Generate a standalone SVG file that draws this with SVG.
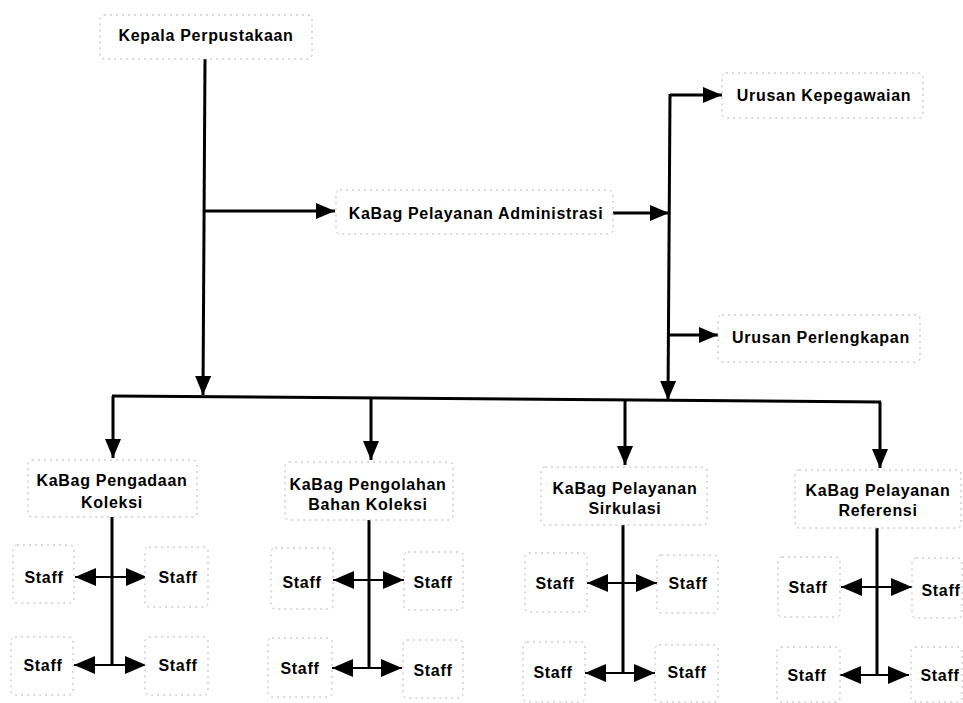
<svg xmlns="http://www.w3.org/2000/svg" width="963" height="703" viewBox="0 0 963 703">
<style>
.box{fill:#fff;stroke:#b5b5b5;stroke-width:1;stroke-dasharray:2 4}
.t{font-family:"Liberation Sans",Arial,sans-serif;font-weight:bold;font-size:16px;letter-spacing:0.7px;fill:#000;text-anchor:middle}
.ln{stroke:#000;stroke-width:3;fill:none}
.sa{stroke:#000;stroke-width:2.2;fill:none}
</style>
<defs>
<marker id="ah" markerUnits="userSpaceOnUse" markerWidth="19" markerHeight="16" refX="19" refY="8" orient="auto">
<path d="M0,0 L19,8 L0,16 z" fill="#000"/>
</marker>
<marker id="sh" markerUnits="userSpaceOnUse" markerWidth="21" markerHeight="18" refX="21" refY="9" orient="auto-start-reverse">
<path d="M0,0 L21,9 L0,18 z" fill="#000"/>
</marker>
</defs>
<rect width="963" height="703" fill="#fff"/>

<g id="connectors">
<line class="ln" x1="205" y1="59" x2="203" y2="395" marker-end="url(#ah)"/>
<line class="ln" x1="204" y1="211" x2="335" y2="211" marker-end="url(#ah)"/>
<line class="ln" x1="613" y1="213" x2="669" y2="213" marker-end="url(#ah)"/>
<path class="ln" d="M670,95 L722,95" marker-end="url(#ah)"/>
<line class="ln" x1="670" y1="94" x2="668" y2="400" marker-end="url(#ah)"/>
<line class="ln" x1="669" y1="335" x2="718" y2="335" marker-end="url(#ah)"/>
<line class="ln" x1="112" y1="396" x2="881" y2="402"/>
<line class="ln" x1="113" y1="396" x2="113" y2="458" marker-end="url(#ah)"/>
<line class="ln" x1="371" y1="398" x2="371" y2="460" marker-end="url(#ah)"/>
<line class="ln" x1="625" y1="400" x2="625" y2="465" marker-end="url(#ah)"/>
<line class="ln" x1="880" y1="402" x2="880" y2="468" marker-end="url(#ah)"/>
<line class="ln" x1="112" y1="517" x2="112" y2="665"/>
<line class="ln" x1="369" y1="520" x2="369" y2="668"/>
<line class="ln" x1="623" y1="525" x2="623" y2="673"/>
<line class="ln" x1="877" y1="528" x2="877" y2="675"/>
<line class="sa" x1="75" y1="577" x2="147" y2="577" marker-start="url(#sh)" marker-end="url(#sh)"/>
<line class="sa" x1="74" y1="665" x2="146" y2="665" marker-start="url(#sh)" marker-end="url(#sh)"/>
<line class="sa" x1="333" y1="580" x2="404" y2="580" marker-start="url(#sh)" marker-end="url(#sh)"/>
<line class="sa" x1="332" y1="668" x2="402" y2="668" marker-start="url(#sh)" marker-end="url(#sh)"/>
<line class="sa" x1="587" y1="583" x2="657" y2="583" marker-start="url(#sh)" marker-end="url(#sh)"/>
<line class="sa" x1="585" y1="673" x2="655" y2="673" marker-start="url(#sh)" marker-end="url(#sh)"/>
<line class="sa" x1="841" y1="587" x2="912" y2="587" marker-start="url(#sh)" marker-end="url(#sh)"/>
<line class="sa" x1="840" y1="675" x2="909" y2="675" marker-start="url(#sh)" marker-end="url(#sh)"/>
</g>

<g id="kepala"><rect class="box" x="100" y="15" width="212" height="44" rx="4"/><text class="t" x="206" y="41">Kepala Perpustakaan</text></g>
<g id="administrasi"><rect class="box" x="336" y="190" width="277" height="44" rx="4"/><text class="t" x="476" y="219">KaBag Pelayanan Administrasi</text></g>
<g id="kepegawaian"><rect class="box" x="722" y="73" width="201" height="45" rx="4"/><text class="t" x="824" y="101">Urusan Kepegawaian</text></g>
<g id="perlengkapan"><rect class="box" x="718" y="315" width="202" height="47" rx="4"/><text class="t" x="821" y="343">Urusan Perlengkapan</text></g>

<g id="pengadaan"><rect class="box" x="28" y="460" width="169" height="57" rx="4"/><text class="t" x="112" y="486">KaBag Pengadaan</text><text class="t" x="112" y="508">Koleksi</text></g>
<g id="pengolahan"><rect class="box" x="285" y="462" width="168" height="58" rx="4"/><text class="t" x="368" y="490">KaBag Pengolahan</text><text class="t" x="368" y="510">Bahan Koleksi</text></g>
<g id="sirkulasi"><rect class="box" x="541" y="467" width="166" height="58" rx="4"/><text class="t" x="625" y="494">KaBag Pelayanan</text><text class="t" x="625" y="514">Sirkulasi</text></g>
<g id="referensi"><rect class="box" x="795" y="470" width="166" height="58" rx="4"/><text class="t" x="878" y="496">KaBag Pelayanan</text><text class="t" x="878" y="516">Referensi</text></g>

<g id="staff1a"><rect class="box" x="13" y="545" width="61" height="58" rx="4"/><text class="t" x="44" y="583">Staff</text></g>
<g id="staff1b"><rect class="box" x="145" y="547" width="63" height="60" rx="4"/><text class="t" x="178" y="583">Staff</text></g>
<g id="staff1c"><rect class="box" x="11" y="637" width="62" height="58" rx="4"/><text class="t" x="43" y="671">Staff</text></g>
<g id="staff1d"><rect class="box" x="145" y="637" width="63" height="58" rx="4"/><text class="t" x="178" y="671">Staff</text></g>

<g id="staff2a"><rect class="box" x="271" y="548" width="62" height="61" rx="4"/><text class="t" x="302" y="588">Staff</text></g>
<g id="staff2b"><rect class="box" x="404" y="552" width="59" height="58" rx="4"/><text class="t" x="433" y="588">Staff</text></g>
<g id="staff2c"><rect class="box" x="268" y="638" width="64" height="59" rx="4"/><text class="t" x="300" y="674">Staff</text></g>
<g id="staff2d"><rect class="box" x="403" y="640" width="60" height="58" rx="4"/><text class="t" x="433" y="676">Staff</text></g>

<g id="staff3a"><rect class="box" x="525" y="553" width="62" height="59" rx="4"/><text class="t" x="555" y="589">Staff</text></g>
<g id="staff3b"><rect class="box" x="657" y="555" width="61" height="58" rx="4"/><text class="t" x="688" y="589">Staff</text></g>
<g id="staff3c"><rect class="box" x="523" y="642" width="62" height="60" rx="4"/><text class="t" x="553" y="678">Staff</text></g>
<g id="staff3d"><rect class="box" x="655" y="645" width="63" height="57" rx="4"/><text class="t" x="687" y="678">Staff</text></g>

<g id="staff4a"><rect class="box" x="778" y="557" width="62" height="60" rx="4"/><text class="t" x="808" y="593">Staff</text></g>
<g id="staff4b"><rect class="box" x="912" y="558" width="50" height="60" rx="4"/><text class="t" x="941" y="596">Staff</text></g>
<g id="staff4c"><rect class="box" x="777" y="647" width="63" height="55" rx="4"/><text class="t" x="807" y="681">Staff</text></g>
<g id="staff4d"><rect class="box" x="911" y="647" width="51" height="55" rx="4"/><text class="t" x="940" y="681">Staff</text></g>
</svg>
